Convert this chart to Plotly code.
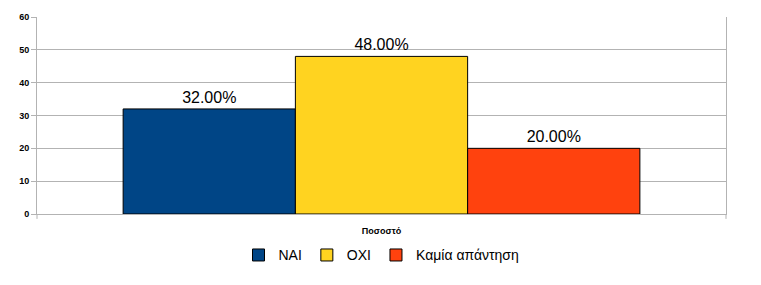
import plotly.graph_objects as go

category = ["Ποσοστό"]
series_names = ["NAI", "OXI", "Καμία απάντηση"]
series_values = [32, 48, 20]
series_labels = ["32.00%", "48.00%", "20.00%"]
colors = ["#004586", "#ffd320", "#ff420e"]
y_ticks = [0, 10, 20, 30, 40, 50, 60]

fig = go.Figure()
for name, val, lab, col in zip(series_names, series_values, series_labels, colors):
    fig.add_trace(go.Bar(
        x=category, y=[val], name=name, marker=dict(color=col, line=dict(color="black", width=1)),
        text=[lab], textposition="outside", cliponaxis=False,
        textfont=dict(family="Liberation Sans", size=16, color="black"),
    ))

grid = "#b3b3b3"
fig.update_layout(
    width=761, height=285, margin=dict(l=37, r=35, t=13, b=71),
    paper_bgcolor="white", plot_bgcolor="white",
    barmode="group", bargap=0.25, bargroupgap=0,
    font=dict(family="Liberation Sans", color="black"),
    showlegend=True,
    legend=dict(orientation="h", x=0.5, xanchor="center", y=-0.21, yanchor="middle",
                font=dict(family="Liberation Sans", size=14, color="black"),
                itemwidth=30, tracegroupgap=0),
    yaxis=dict(range=[0, 60], tickvals=y_ticks, showgrid=True, gridcolor=grid, gridwidth=1,
               showline=True, linecolor=grid, linewidth=1, mirror=True,
               ticks="outside", ticklen=5, tickcolor=grid,
               tickfont=dict(family="Liberation Sans", size=9, color="black", weight="bold"),
               zeroline=False, fixedrange=True),
    xaxis=dict(showline=True, linecolor=grid, linewidth=1, ticks="",
               tickfont=dict(family="Liberation Sans", size=9, color="black", weight="bold"),
               ticklabelstandoff=8),
)
# category-boundary ticks at the plot edges
for xp in (0, 1):
    fig.add_shape(type="line", xref="paper", yref="paper", x0=xp, x1=xp, y0=0, y1=-5/201,
                  line=dict(color=grid, width=1))

fig.write_html("out.html")
